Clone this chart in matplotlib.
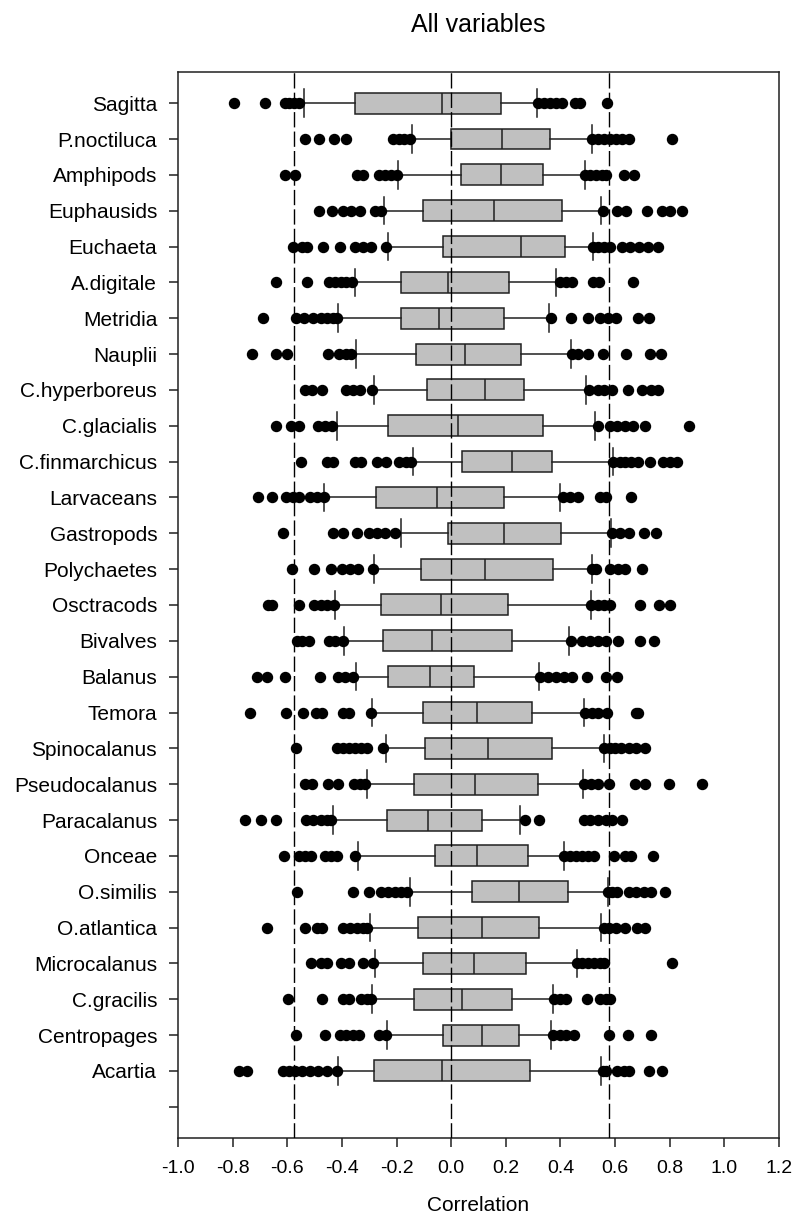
import matplotlib
matplotlib.use("Agg")
import matplotlib.pyplot as plt

plt.rcParams['font.family'] = ['Liberation Sans', 'DejaVu Sans']

categories = ["Sagitta", "P.noctiluca", "Amphipods", "Euphausids", "Euchaeta",
              "A.digitale", "Metridia", "Nauplii", "C.hyperboreus", "C.glacialis",
              "C.finmarchicus", "Larvaceans", "Gastropods", "Polychaetes", "Osctracods",
              "Bivalves", "Balanus", "Temora", "Spinocalanus", "Pseudocalanus",
              "Paracalanus", "Onceae", "O.similis", "O.atlantica", "Microcalanus",
              "C.gracilis", "Centropages", "Acartia"]

q1 = [-0.351, -0.001, 0.036, -0.102, -0.029, -0.184, -0.184, -0.128, -0.090, -0.233,
      0.041, -0.276, -0.010, -0.112, -0.258, -0.251, -0.233, -0.105, -0.096, -0.137,
      -0.236, -0.061, 0.077, -0.122, -0.105, -0.137, -0.029, -0.283]
med = [-0.035, 0.187, 0.184, 0.157, 0.254, -0.010, -0.044, 0.051, 0.122, 0.026,
       0.224, -0.052, 0.194, 0.125, -0.039, -0.071, -0.076, 0.096, 0.136, 0.087,
       -0.085, 0.096, 0.248, 0.114, 0.085, 0.038, 0.114, -0.032]
q3 = [0.181, 0.362, 0.335, 0.405, 0.415, 0.213, 0.192, 0.257, 0.268, 0.337,
      0.370, 0.192, 0.401, 0.372, 0.207, 0.222, 0.082, 0.294, 0.370, 0.318,
      0.114, 0.281, 0.426, 0.321, 0.273, 0.224, 0.248, 0.290]
whislo = [-0.539, -0.144, -0.195, -0.246, -0.233, -0.353, -0.414, -0.350, -0.284, -0.418,
          -0.141, -0.466, -0.185, -0.283, -0.426, -0.392, -0.350, -0.289, -0.239, -0.309,
          -0.433, -0.341, -0.152, -0.297, -0.280, -0.290, -0.235, -0.414]
whishi = [0.315, 0.515, 0.490, 0.548, 0.519, 0.383, 0.357, 0.437, 0.493, 0.525,
          0.592, 0.398, 0.585, 0.515, 0.510, 0.431, 0.321, 0.487, 0.561, 0.481,
          0.251, 0.413, 0.574, 0.548, 0.459, 0.373, 0.364, 0.548]

outliers = [
    [-0.794, -0.681, -0.608, -0.593, -0.574, -0.557, 0.318, 0.340, 0.360, 0.382, 0.405, 0.452, 0.471, 0.570],
    [-0.535, -0.484, -0.429, -0.385, -0.214, -0.192, -0.171, -0.149, 0.515, 0.536, 0.558, 0.580, 0.602, 0.624, 0.650, 0.809],
    [-0.608, -0.571, -0.345, -0.321, -0.265, -0.243, -0.222, -0.200, 0.490, 0.507, 0.529, 0.551, 0.566, 0.631, 0.668],
    [-0.484, -0.436, -0.397, -0.367, -0.335, -0.280, -0.258, 0.554, 0.606, 0.641, 0.716, 0.770, 0.800, 0.845],
    [-0.579, -0.545, -0.528, -0.469, -0.408, -0.353, -0.324, -0.292, -0.239, 0.519, 0.536, 0.558, 0.580, 0.627, 0.656, 0.687, 0.719, 0.758],
    [-0.641, -0.528, -0.448, -0.426, -0.404, -0.385, -0.364, 0.398, 0.420, 0.442, 0.519, 0.541, 0.665],
    [-0.688, -0.569, -0.539, -0.506, -0.477, -0.455, -0.433, -0.418, 0.364, 0.437, 0.500, 0.544, 0.573, 0.602, 0.685, 0.723],
    [-0.729, -0.641, -0.600, -0.452, -0.411, -0.385, -0.367, 0.442, 0.464, 0.500, 0.555, 0.641, 0.729, 0.767],
    [-0.535, -0.510, -0.472, -0.385, -0.360, -0.335, -0.290, 0.504, 0.536, 0.558, 0.587, 0.646, 0.700, 0.733, 0.758],
    [-0.641, -0.586, -0.557, -0.487, -0.462, -0.437, 0.536, 0.583, 0.606, 0.636, 0.665, 0.711, 0.872],
    [-0.550, -0.455, -0.433, -0.353, -0.331, -0.273, -0.239, -0.192, -0.166, -0.146, 0.592, 0.617, 0.638, 0.660, 0.685, 0.726, 0.777, 0.802, 0.828],
    [-0.708, -0.656, -0.605, -0.579, -0.557, -0.517, -0.491, -0.466, 0.408, 0.434, 0.464, 0.544, 0.566, 0.660],
    [-0.615, -0.433, -0.397, -0.343, -0.302, -0.273, -0.243, -0.204, 0.587, 0.617, 0.650, 0.704, 0.748],
    [-0.583, -0.501, -0.440, -0.399, -0.370, -0.341, -0.286, 0.515, 0.529, 0.580, 0.609, 0.638, 0.697],
    [-0.670, -0.656, -0.557, -0.501, -0.477, -0.455, -0.429, 0.510, 0.536, 0.561, 0.583, 0.690, 0.762, 0.802],
    [-0.564, -0.545, -0.520, -0.448, -0.426, -0.397, 0.437, 0.478, 0.507, 0.536, 0.566, 0.609, 0.692, 0.743],
    [-0.710, -0.673, -0.608, -0.481, -0.414, -0.389, -0.360, 0.325, 0.354, 0.383, 0.413, 0.442, 0.497, 0.566, 0.606],
    [-0.735, -0.605, -0.542, -0.496, -0.472, -0.397, -0.375, -0.292, 0.490, 0.514, 0.539, 0.569, 0.675, 0.682],
    [-0.569, -0.418, -0.396, -0.374, -0.352, -0.331, -0.309, -0.251, 0.561, 0.580, 0.601, 0.623, 0.652, 0.678, 0.708],
    [-0.535, -0.510, -0.452, -0.414, -0.356, -0.335, -0.316, 0.485, 0.510, 0.536, 0.577, 0.671, 0.711, 0.796, 0.918],
    [-0.754, -0.695, -0.641, -0.531, -0.506, -0.477, -0.455, -0.440, 0.271, 0.321, 0.485, 0.507, 0.536, 0.566, 0.587, 0.624],
    [-0.612, -0.557, -0.535, -0.513, -0.462, -0.440, -0.418, -0.353, 0.413, 0.435, 0.457, 0.479, 0.500, 0.522, 0.595, 0.638, 0.660, 0.738],
    [-0.564, -0.360, -0.302, -0.258, -0.233, -0.207, -0.185, -0.163, 0.573, 0.587, 0.606, 0.650, 0.675, 0.704, 0.733, 0.784],
    [-0.673, -0.535, -0.491, -0.472, -0.397, -0.371, -0.346, -0.324, -0.309, 0.558, 0.577, 0.602, 0.638, 0.679, 0.711],
    [-0.513, -0.477, -0.455, -0.404, -0.375, -0.324, -0.287, 0.459, 0.478, 0.500, 0.522, 0.544, 0.558, 0.810],
    [-0.598, -0.474, -0.397, -0.375, -0.331, -0.309, -0.294, 0.376, 0.398, 0.420, 0.496, 0.544, 0.566, 0.583],
    [-0.569, -0.462, -0.408, -0.385, -0.360, -0.338, -0.265, -0.239, 0.373, 0.398, 0.420, 0.449, 0.577, 0.646, 0.730],
    [-0.778, -0.746, -0.615, -0.593, -0.571, -0.545, -0.516, -0.487, -0.455, -0.418, 0.554, 0.566, 0.606, 0.631, 0.650, 0.723, 0.770],
]

ref_lines = [-0.576, 0.0, 0.576]
x_ticks = [-1.0, -0.8, -0.6, -0.4, -0.2, 0.0, 0.2, 0.4, 0.6, 0.8, 1.0, 1.2]

fig = plt.figure(figsize=(7.95, 12.18), dpi=100)
ax = fig.add_axes([0.2239, 0.0657, 0.756, 0.8752])

stats = []
for i, name in enumerate(categories):
    stats.append(dict(label=name, q1=q1[i], med=med[i], q3=q3[i],
                      whislo=whislo[i], whishi=whishi[i], fliers=outliers[i]))

positions = list(range(1, len(categories) + 1))
ax.bxp(stats, positions=positions, vert=False, widths=0.585, capwidths=0.77,
       patch_artist=True, showfliers=True,
       boxprops=dict(facecolor='#c0c0c0', edgecolor='#202020', linewidth=1.1),
       medianprops=dict(color='#202020', linewidth=1.1),
       whiskerprops=dict(color='#202020', linewidth=1.1),
       capprops=dict(color='#202020', linewidth=1.1),
       flierprops=dict(marker='o', markerfacecolor='black', markeredgecolor='black',
                       markersize=7.2, linestyle='none'))

for xv in ref_lines:
    ax.axvline(xv, color='black', linewidth=1.0, linestyle=(0, (11, 3)), zorder=4)

ax.set_xlim(-1.0, 1.2)
ax.set_ylim(29.87, 0.13)
ax.set_xticks(x_ticks)
ax.set_xticklabels([f"{v:.1f}" for v in x_ticks])
ax.set_yticks(positions + [len(categories) + 1])
ax.set_yticklabels(categories + [""])
ax.tick_params(axis='both', direction='out', length=6.5, width=1.1, color='#202020')
ax.tick_params(axis='x', labelsize=14, pad=9)
ax.tick_params(axis='y', labelsize=15, pad=8.5)
for sp in ax.spines.values():
    sp.set_linewidth(1.1)
    sp.set_color('#202020')

ax.set_xlabel("Correlation", fontsize=15, labelpad=14)
ax.set_title("All variables", fontsize=18, pad=29)

fig.savefig("out.png", dpi=100)
